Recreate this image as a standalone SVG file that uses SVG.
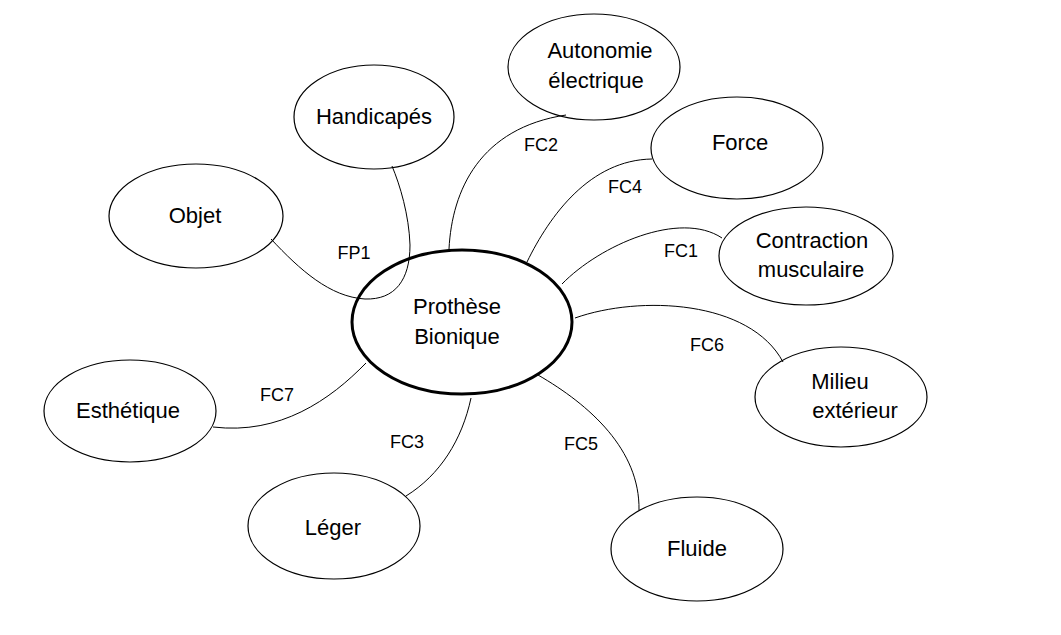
<svg xmlns="http://www.w3.org/2000/svg" width="1061" height="635" viewBox="0 0 1061 635">
<style>
.n{fill:#fff;stroke:#000;stroke-width:1.2}
.c{fill:none;stroke:#000;stroke-width:3}
.t{font-family:"Liberation Sans",Arial,sans-serif;font-size:22px;fill:#000;text-anchor:middle}
.l{font-family:"Liberation Sans",Arial,sans-serif;font-size:18px;fill:#000;text-anchor:middle}
.e{fill:none;stroke:#000;stroke-width:1}
</style>
<rect width="1061" height="635" fill="#fff"/>
<g id="nodes-outer">
<g id="autonomie"><ellipse class="n" cx="594" cy="67" rx="86" ry="53"/><text class="t" x="600" y="58">Autonomie</text><text class="t" x="596" y="88">électrique</text></g>
<g id="handicapes"><ellipse class="n" cx="374" cy="117" rx="80" ry="52"/><text class="t" x="374" y="124">Handicapés</text></g>
<g id="objet"><ellipse class="n" cx="196" cy="216" rx="87" ry="52"/><text class="t" x="195" y="223">Objet</text></g>
<g id="force"><ellipse class="n" cx="737" cy="148" rx="86" ry="51"/><text class="t" x="740" y="150">Force</text></g>
<g id="contraction"><ellipse class="n" cx="806" cy="256" rx="87" ry="49"/><text class="t" x="812" y="248">Contraction</text><text class="t" x="811" y="277">musculaire</text></g>
<g id="milieu"><ellipse class="n" cx="841" cy="397" rx="86" ry="50"/><text class="t" x="840" y="389">Milieu</text><text class="t" x="855" y="418">extérieur</text></g>
<g id="esthetique"><ellipse class="n" cx="130" cy="411" rx="86" ry="51"/><text class="t" x="128" y="418">Esthétique</text></g>
<g id="leger"><ellipse class="n" cx="334" cy="526" rx="86" ry="53"/><text class="t" x="333" y="535">Léger</text></g>
<g id="fluide"><ellipse class="n" cx="697" cy="549" rx="86" ry="52"/><text class="t" x="697" y="556">Fluide</text></g>
</g>
<g id="connectors">
<path class="e" d="M 271 239 C 300 270, 330 297, 365 299 C 395 300, 410 280, 410 245 C 409 215, 400 185, 392 166"/>
<path class="e" d="M 449 249 C 452 190, 480 128, 566 115"/>
<path class="e" d="M 527 262 C 550 215, 590 160, 652 159"/>
<path class="e" d="M 562 284 C 600 245, 680 210, 722 238"/>
<path class="e" d="M 575 318 C 640 295, 750 300, 783 362"/>
<path class="e" d="M 538 375 C 590 405, 640 450, 639 510"/>
<path class="e" d="M 471 398 C 462 440, 440 475, 406 496"/>
<path class="e" d="M 366 363 C 330 400, 280 435, 213 427"/>
<text class="l" x="354" y="259">FP1</text>
<text class="l" x="541" y="151">FC2</text>
<text class="l" x="625" y="193">FC4</text>
<text class="l" x="681" y="257">FC1</text>
<text class="l" x="707" y="351">FC6</text>
<text class="l" x="581" y="450">FC5</text>
<text class="l" x="407" y="448">FC3</text>
<text class="l" x="277" y="401">FC7</text>
</g>
<g id="prothese">
<ellipse class="c" cx="462" cy="322" rx="110" ry="72"/>
<text class="t" x="457" y="314">Prothèse</text>
<text class="t" x="457" y="344">Bionique</text>
</g>
</svg>
